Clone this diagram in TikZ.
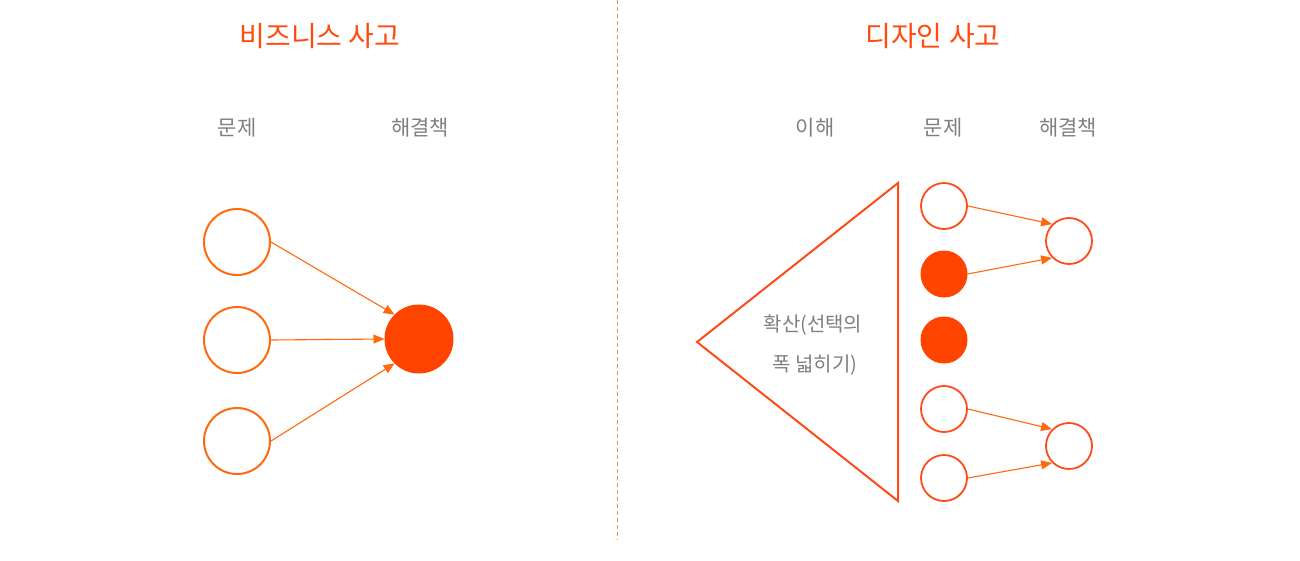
\documentclass[tikz,border=0pt]{standalone}
\usepackage{fontspec}
\setmainfont{Noto Sans CJK KR}
\usetikzlibrary{arrows.meta}
\definecolor{titleor}{HTML}{FF4A10}
\definecolor{ringor}{HTML}{FF6A10}
\definecolor{fillor}{HTML}{FF4400}
\definecolor{arrowor}{HTML}{FF6A10}
\definecolor{triangleor}{HTML}{FF4A1A}
\definecolor{labelgray}{HTML}{808080}
\definecolor{divider}{HTML}{F5904A}
\tikzset{
  titletext/.style={text=titleor, font=\fontsize{28}{32}\selectfont, inner sep=0pt},
  headtext/.style={text=labelgray, font=\fontsize{21}{24}\selectfont, inner sep=0pt},
  bodytext/.style={text=labelgray, font=\fontsize{20}{23}\selectfont, inner sep=0pt},
  ringbig/.style={circle, draw=ringor, line width=2pt, minimum size=66pt, inner sep=0pt, fill=white},
  dotbig/.style={circle, draw=fillor, fill=fillor, line width=1pt, minimum size=68pt, inner sep=0pt},
  ringsmall/.style={circle, draw=triangleor, line width=1.8pt, minimum size=46pt, inner sep=0pt, fill=white},
  dotsmall/.style={circle, draw=fillor, fill=fillor, line width=1pt, minimum size=46pt, inner sep=0pt},
  flow/.style={draw=arrowor, line width=1.1pt, -{Triangle[length=11pt,width=9pt]}},
}
\begin{document}
\begin{tikzpicture}[x=1pt,y=-1pt]
\useasboundingbox[fill=white] (0,0) rectangle (1300,560);
% divider
\coordinate (dtop) at (617,0);
\coordinate (dbot) at (617,540);
\draw[divider, line width=1pt, dash pattern=on 4pt off 3pt] (dtop) -- (dbot);
% titles
\node[titletext] (t1) at (320,36) {비즈니스 사고};
\node[titletext] (t2) at (933,36) {디자인 사고};
% headers
\node[headtext] (h1) at (237,128) {문제};
\node[headtext] (h2) at (420,128) {해결책};
\node[headtext] (h3) at (815,128) {이해};
\node[headtext] (h4) at (943,128) {문제};
\node[headtext] (h5) at (1068,128) {해결책};
% left part
\node[ringbig] (a1) at (237,242) {};
\node[ringbig] (a2) at (237,340) {};
\node[ringbig] (a3) at (237,441) {};
\node[dotbig] (s) at (419,339) {};
\draw[flow] (a1.east) -- (s.135);
\draw[flow] (a2.east) -- (s.west);
\draw[flow] (a3.east) -- (s.225);
% triangle
\coordinate (tp) at (697,342);
\coordinate (tt) at (898,183);
\coordinate (tb) at (898,501);
\draw[triangleor, line width=2pt, line join=miter] (tp) -- (tt) -- (tb) -- cycle;
\node[bodytext] (x1) at (813,325) {확산(선택의};
\node[bodytext] (x2) at (815,365) {폭 넓히기)};
% right part
\node[ringsmall] (b1) at (944,206) {};
\node[dotsmall] (b2) at (944,274) {};
\node[dotsmall] (b3) at (944,340) {};
\node[ringsmall] (b4) at (944,409) {};
\node[ringsmall] (b5) at (944,478) {};
\node[ringsmall] (r1) at (1069,241) {};
\node[ringsmall] (r2) at (1069,446) {};
\draw[flow] (b1.east) -- (r1.135);
\draw[flow] (b2.east) -- (r1.225);
\draw[flow] (b4.east) -- (r2.135);
\draw[flow] (b5.east) -- (r2.225);
\end{tikzpicture}
\end{document}
